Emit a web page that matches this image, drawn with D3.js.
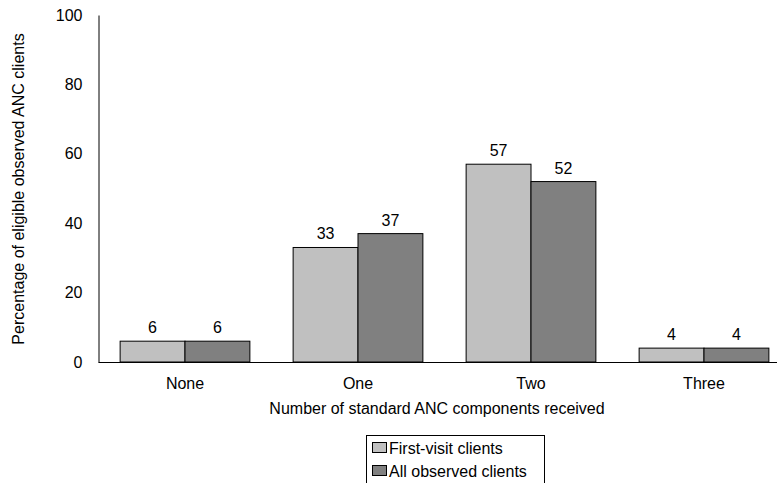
<!DOCTYPE html>
<html>
<head>
<meta charset="utf-8">
<script src="https://cdn.jsdelivr.net/npm/d3@7"></script>
<style>
body{margin:0;background:#fff;}
svg{display:block;font-family:"Liberation Sans",Arial,sans-serif;}
</style>
</head>
<body>
<svg id="chart" width="777" height="483"></svg>
<script>
const categories = ["None", "One", "Two", "Three"];
const seriesNames = ["First-visit clients", "All observed clients"];
const firstVisit = [6, 33, 57, 4];
const allObserved = [6, 37, 52, 4];
const yTicks = [0, 20, 40, 60, 80, 100];
const colors = ["#c0c0c0", "#808080"];
const FS = 16;
const FF = "Liberation Sans, Arial, sans-serif";

const svg = d3.select("#chart");
const x0 = d3.scaleBand().domain(categories).range([98.5, 790.5]).paddingInner(0.25).paddingOuter(0.125);
const x1 = d3.scaleBand().domain(seriesNames).range([0, x0.bandwidth()]);
const y = d3.scaleLinear().domain([0, 100]).range([362, 15]);

const data = categories.map((c, i) => ({cat: c, vals: [firstVisit[i], allObserved[i]]}));

// y axis
const yAxis = d3.axisLeft(y).tickValues(yTicks).tickSize(0).tickPadding(16);
const gy = svg.append("g").attr("transform", "translate(98.5,0)").call(yAxis);
gy.attr("font-size", FS).attr("font-family", FF);
gy.select(".domain").attr("stroke", "#000");
gy.selectAll("text").attr("fill", "#000");

// bars
const groups = svg.append("g").selectAll("g").data(data).join("g")
  .attr("transform", d => `translate(${x0(d.cat)},0)`);
groups.selectAll("rect").data(d => d.vals.map((v, j) => ({v, s: seriesNames[j], j})))
  .join("rect")
  .attr("x", d => x1(d.s))
  .attr("y", d => y(d.v))
  .attr("width", x1.bandwidth())
  .attr("height", d => y(0) - y(d.v))
  .attr("fill", d => colors[d.j])
  .attr("stroke", "#000").attr("stroke-width", 1);
groups.selectAll("text").data(d => d.vals.map((v, j) => ({v, s: seriesNames[j]})))
  .join("text")
  .attr("x", d => x1(d.s) + x1.bandwidth() / 2)
  .attr("y", d => y(d.v) - 8)
  .attr("text-anchor", "middle").attr("font-size", FS)
  .text(d => d.v);

// x axis
const xAxis = d3.axisBottom(x0).tickSize(0).tickPadding(16);
const gx = svg.append("g").attr("transform", `translate(0,${y(0)})`).call(xAxis);
gx.attr("font-size", FS).attr("font-family", FF);
gx.select(".domain").attr("stroke", "#000").attr("d", "M98.5,0.5H777");
gx.selectAll("text").attr("fill", "#000");

// axis titles
svg.append("text").attr("x", 437).attr("y", 414).attr("text-anchor", "middle")
  .attr("font-size", FS).text("Number of standard ANC components received");
svg.append("text").attr("transform", "translate(24,189) rotate(-90)").attr("text-anchor", "middle")
  .attr("font-size", FS).text("Percentage of eligible observed ANC clients");

// legend
const lg = svg.append("g");
lg.append("rect").attr("x", 366.5).attr("y", 435.5).attr("width", 178).attr("height", 60)
  .attr("fill", "#fff").attr("stroke", "#000");
seriesNames.forEach((s, i) => {
  const cy = 448 + i * 23;
  lg.append("rect").attr("x", 372.5).attr("y", cy - 5.5).attr("width", 14).attr("height", 10)
    .attr("fill", colors[i]).attr("stroke", "#000");
  lg.append("text").attr("x", 389).attr("y", cy + 6).attr("font-size", FS).text(s);
});
</script>
</body>
</html>
